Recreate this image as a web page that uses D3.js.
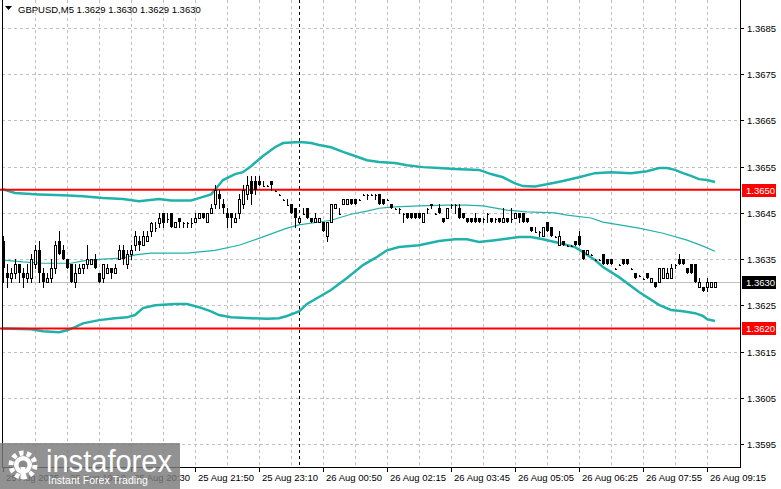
<!DOCTYPE html>
<html>
<head>
<meta charset="utf-8">
<script src="https://cdn.jsdelivr.net/npm/d3@7"></script>
<style>
  body { margin: 0; background: #fff; }
  text { font-family: "Liberation Sans", Arial, sans-serif; }
</style>
</head>
<body>
<div id="chart"></div>
<script>
var W = 781, H = 489;
var plotLeft = 2, plotRight = 740, plotBottom = 467;

// GBPUSD M5 bars: [open, high, low, close]
var candles = [
  [1.3639,1.3640,1.3630,1.3633],[1.3632,1.3634,1.3629,1.3631],[1.3631,1.3633,1.3630,1.3632],[1.3632,1.3635,1.3631,1.3634],
  [1.3634,1.3634,1.3630,1.3632],[1.3632,1.3633,1.3629,1.3631],[1.3631,1.3634,1.3630,1.3632],[1.3631,1.3636,1.3630,1.3635],
  [1.3634,1.3638,1.3633,1.3637],[1.3637,1.3639,1.3630,1.3632],[1.3632,1.3633,1.3629,1.3630],[1.3630,1.3632,1.3630,1.3631],
  [1.3631,1.3635,1.3630,1.3633],[1.3633,1.3639,1.3632,1.3638],[1.3639,1.3641,1.3636,1.3636],[1.3637,1.3638,1.3635,1.3635],
  [1.3635,1.3635,1.3633,1.3633],[1.3634,1.3634,1.3630,1.3630],[1.3630,1.3634,1.3629,1.3632],[1.3632,1.3634,1.3632,1.3633],
  [1.3633,1.3634,1.3632,1.3634],[1.3634,1.3638,1.3633,1.3635],[1.3634,1.3635,1.3634,1.3635],[1.3635,1.3636,1.3633,1.3633],
  [1.3632,1.3632,1.3630,1.3630],[1.3631,1.3634,1.3630,1.3634],[1.3632,1.3634,1.3632,1.3633],[1.3633,1.3633,1.3631,1.3632],
  [1.3632,1.3634,1.3632,1.3633],[1.3635,1.3638,1.3635,1.3637],[1.3637,1.3638,1.3634,1.3635],[1.3634,1.3637,1.3633,1.3636],
  [1.3636,1.3638,1.3635,1.3637],[1.3638,1.3641,1.3637,1.3640],[1.3639,1.3640,1.3637,1.3638],[1.3638,1.3641,1.3638,1.3640],
  [1.3639,1.3641,1.3639,1.3640],[1.3641,1.3643,1.3640,1.36428],[1.3642,1.3643,1.3641,1.3642],[1.36428,1.3645,1.3642,1.3644],
  [1.3645,1.3645,1.3642,1.36428],[1.3644,1.3645,1.3643,1.3644],[1.3645,1.3645,1.3642,1.3642],[1.3642,1.3643,1.3642,1.3643],
  [1.3644,1.3644,1.3642,1.3643],[1.3643,1.3643,1.3642,1.3643],[1.3643,1.3643,1.3642,1.3643],[1.3643,1.3644,1.3642,1.3643],
  [1.3643,1.3645,1.3643,1.3644],[1.3644,1.3645,1.3644,1.3645],[1.3645,1.3645,1.3644,1.3644],[1.3643,1.3645,1.3643,1.3645],
  [1.3645,1.3647,1.3645,1.3646],[1.3647,1.3651,1.3646,1.3650],[1.3649,1.3650,1.3646,1.3648],[1.3647,1.3648,1.3645,1.3646],
  [1.3645,1.3646,1.3642,1.3644],[1.3645,1.3645,1.3642,1.3644],[1.3643,1.3645,1.3643,1.3644],[1.3645,1.3649,1.3644,1.3648],
  [1.3647,1.3651,1.3646,1.3650],[1.3649,1.3653,1.3648,1.3651],[1.3652,1.3653,1.3647,1.3649],[1.3652,1.3653,1.3649,1.3650],
  [1.3652,1.3653,1.3651,1.3651],[1.3651,1.3652,1.3651,1.3651],[1.3651,1.3651,1.3651,1.3651],[1.3652,1.3652,1.3650,1.3651],
  [1.3650,1.3650,1.3650,1.3650],[1.3649,1.3649,1.3649,1.3649],[1.3648,1.3648,1.3648,1.3648],[1.3647,1.3648,1.3647,1.3647],
  [1.3647,1.3647,1.3645,1.3645],[1.3646,1.3646,1.3642,1.3644],[1.3643,1.3644,1.3643,1.3644],[1.3645,1.3646,1.3645,1.3645],
  [1.3646,1.3646,1.3644,1.3644],[1.3644,1.3644,1.3643,1.3643],[1.3643,1.3645,1.3643,1.3644],[1.3643,1.3644,1.3643,1.3644],
  [1.3643,1.3643,1.3641,1.3641],[1.3640,1.3643,1.3639,1.3643],[1.3643,1.3647,1.3643,1.3647],[1.3646,1.3647,1.3646,1.3647],
  [1.3645,1.3646,1.3645,1.3645],[1.3647,1.3648,1.3647,1.3648],[1.3647,1.3648,1.3647,1.3648],[1.3648,1.3648,1.3647,1.3647],
  [1.3648,1.3648,1.3647,1.3647],[1.3648,1.3648,1.3648,1.3648],[1.3649,1.3649,1.3649,1.3649],[1.3649,1.3649,1.3648,1.3649],
  [1.3649,1.3649,1.3649,1.3649],[1.3649,1.3649,1.3648,1.3649],[1.3649,1.3649,1.3647,1.3647],[1.3648,1.3648,1.3647,1.3647],
  [1.3648,1.3648,1.3648,1.3648],[1.3647,1.3647,1.3646,1.3646],[1.3646,1.3646,1.3646,1.3646],[1.3646,1.3646,1.3645,1.3646],
  [1.3645,1.3645,1.3643,1.3645],[1.3645,1.3645,1.3644,1.3644],[1.3645,1.3645,1.3644,1.3644],[1.3645,1.3645,1.3644,1.3644],
  [1.3645,1.3645,1.3644,1.3644],[1.3643,1.3645,1.3643,1.3645],[1.3646,1.3646,1.3645,1.3646],[1.3647,1.3647,1.3646,1.36465],
  [1.3645,1.3645,1.3645,1.3645],[1.3646,1.3647,1.3645,1.3645],[1.3644,1.3644,1.3643,1.3643],[1.3644,1.3646,1.3644,1.3646],
  [1.3647,1.3647,1.3646,1.3647],[1.3647,1.3647,1.3645,1.3647],[1.3646,1.3647,1.3644,1.3644],[1.3645,1.3645,1.3644,1.3644],
  [1.3644,1.3644,1.3643,1.3643],[1.3644,1.3644,1.3643,1.3643],[1.3644,1.3645,1.3643,1.3643],[1.3644,1.3644,1.3643,1.3643],
  [1.3644,1.3644,1.3643,1.3644],[1.3645,1.3645,1.3643,1.3645],[1.3644,1.3644,1.3643,1.3643],[1.3644,1.3644,1.3643,1.3644],
  [1.3644,1.3644,1.3643,1.3643],[1.3643,1.3646,1.3643,1.3644],[1.3644,1.3644,1.3643,1.3643],[1.3644,1.3646,1.3643,1.3644],
  [1.3644,1.3645,1.3644,1.3645],[1.3645,1.3645,1.3643,1.3644],[1.3645,1.3645,1.3643,1.3643],[1.3644,1.3644,1.3643,1.3643],
  [1.3642,1.3642,1.3641,1.3641],[1.3641,1.3642,1.3641,1.3641],[1.3641,1.3641,1.3640,1.3641],[1.3640,1.3642,1.3640,1.3642],
  [1.3643,1.3643,1.3641,1.3641],[1.3642,1.3642,1.3640,1.3640],[1.3640,1.3640,1.3640,1.3640],[1.3638,1.3641,1.3638,1.3640],
  [1.3639,1.3639,1.3638,1.3638],[1.3638,1.3638,1.3638,1.3638],[1.3638,1.3638,1.3638,1.3638],[1.3639,1.3639,1.3638,1.3638],
  [1.3640,1.3641,1.3638,1.3638],[1.3637,1.3637,1.3635,1.3635],[1.3636,1.3637,1.3636,1.3637],[1.3636,1.3636,1.3636,1.3636],
  [1.3635,1.3635,1.3635,1.3635],[1.3635,1.3635,1.3635,1.3635],[1.3636,1.3636,1.3634,1.3634],[1.3635,1.3635,1.3634,1.3634],
  [1.3635,1.3635,1.3634,1.3634],[1.3633,1.3633,1.3633,1.3633],[1.3634,1.3634,1.3634,1.3634],[1.3635,1.3635,1.3634,1.3634],
  [1.3635,1.3635,1.3634,1.3634],[1.3633,1.3633,1.3633,1.3633],[1.3632,1.3632,1.3631,1.3631],[1.36315,1.36315,1.36315,1.36315],
  [1.3631,1.3631,1.3631,1.3631],[1.3632,1.3632,1.3631,1.3631],[1.3630,1.3631,1.3630,1.3631],[1.3630,1.3630,1.3629,1.3629],
  [1.3630,1.3633,1.3630,1.3633],[1.3631,1.3633,1.3631,1.3633],[1.3631,1.3633,1.3631,1.3632],[1.3631,1.3634,1.3631,1.3633],
  [1.3634,1.3634,1.3633,1.3634],[1.3635,1.3636,1.3634,1.3634],[1.3635,1.3635,1.3634,1.3634],[1.3633,1.3633,1.3632,1.3632],
  [1.3634,1.3634,1.3632,1.3632],[1.3634,1.3634,1.3630,1.3630],[1.3629,1.3631,1.3629,1.3630],[1.3629,1.3629,1.3628,1.3628],
  [1.3629,1.3631,1.3628,1.3630],[1.3629,1.3630,1.3629,1.3630],[1.3629,1.3630,1.3629,1.3630]
];

// Bollinger bands: [bar, price]
var upperBand = [
  [0,1.36501],[3,1.36493],[9,1.3649],[15,1.36488],[20,1.36486],[25,1.36482],[30,1.3648],[34,1.36475],
  [39,1.3648],[42,1.36477],[47,1.36477],[49,1.36482],[52,1.3649],[53,1.3650],[55,1.36521],[58,1.36534],
  [60,1.36538],[62,1.36551],[65,1.36573],[68,1.36592],[70,1.36601],[73,1.36603],[75,1.36603],[77,1.36601],
  [79,1.36597],[82,1.36592],[85,1.36582],[88,1.36573],[91,1.36564],[94,1.3656],[98,1.36558],[101,1.36553],
  [105,1.36549],[109,1.36547],[113,1.36545],[119,1.36543],[122,1.36534],[125,1.36527],[128,1.36514],[130,1.36508],
  [133,1.36507],[136,1.36512],[140,1.36519],[144,1.36527],[148,1.36536],[152,1.36538],[157,1.36536],[161,1.3654],
  [164,1.36547],[166,1.36547],[168,1.36543],[170,1.36536],[172,1.3653],[174,1.36523],[176,1.36521],[178,1.36517]
];
var middleBand = [
  [0,1.36348],[5,1.36344],[10,1.36341],[17,1.36341],[20,1.36346],[25,1.3635],[30,1.36352],[33,1.36359],
  [37,1.36363],[46,1.36363],[53,1.36369],[59,1.3638],[65,1.36398],[71,1.36417],[74,1.36424],[82,1.36434],
  [87,1.36447],[91,1.36454],[94,1.3646],[98,1.36463],[104,1.36465],[111,1.36467],[116,1.36467],[120,1.36465],
  [126,1.36456],[131,1.36452],[138,1.3645],[141,1.36445],[147,1.36439],[150,1.3643],[159,1.36417],[165,1.36406],
  [171,1.36391],[175,1.36378],[178,1.36367]
];
var lowerBand = [
  [0,1.3620],[7,1.36198],[10,1.36194],[14,1.36192],[16,1.36196],[18,1.36203],[20,1.36211],[24,1.36218],
  [28,1.36222],[31,1.36224],[33,1.36229],[35,1.36244],[38,1.3625],[43,1.36253],[46,1.36253],[49,1.36246],
  [52,1.36237],[54,1.36229],[57,1.36224],[62,1.36222],[66,1.36221],[69,1.36222],[71,1.36227],[74,1.36237],
  [76,1.36253],[79,1.36268],[82,1.36283],[86,1.36309],[90,1.36337],[93,1.36352],[96,1.36369],[99,1.36376],
  [104,1.3638],[109,1.36389],[113,1.36393],[116,1.36393],[119,1.36387],[123,1.36391],[129,1.36398],[132,1.36398],
  [135,1.36393],[139,1.36385],[143,1.36376],[145,1.36365],[148,1.36348],[150,1.36333],[154,1.36311],[159,1.36279],
  [164,1.36251],[167,1.3624],[170,1.36237],[173,1.36233],[175,1.36227],[176,1.3622],[178,1.36216]
];

var priceTicks = [1.3685, 1.3675, 1.3665, 1.3655, 1.3645, 1.3635, 1.3625, 1.3615, 1.3605, 1.3595];
var timeLabels = ["25 Aug 2025", "25 Aug 19:10", "25 Aug 20:30", "25 Aug 21:50", "25 Aug 23:10", "26 Aug 00:50",
                  "26 Aug 02:15", "26 Aug 03:45", "26 Aug 05:05", "26 Aug 06:25", "26 Aug 07:55", "26 Aug 09:15"];
var levels = [1.3650, 1.3620];   // red support / resistance lines
var bid = 1.3630;
var daySeparatorBar = 74;
var title = "GBPUSD,M5  1.3629 1.3630 1.3629 1.3630";

var svg = d3.select("#chart").append("svg")
    .attr("width", W)
    .attr("height", H);

var x = d3.scaleLinear().domain([0, candles.length - 1]).range([3, 3 + 4 * (candles.length - 1)]);
var y = d3.scaleLinear().domain([1.3595, 1.3685]).range([444, 28]);
var py = p => Math.round(y(p));

// grid
var grid = svg.append("g").attr("stroke", "#c0c0c0").attr("stroke-dasharray", "3,3").attr("shape-rendering", "crispEdges");
grid.selectAll(".hg").data(priceTicks).enter().append("line")
    .attr("x1", plotLeft).attr("x2", plotRight)
    .attr("y1", d => py(d) + 0.5).attr("y2", d => py(d) + 0.5);
grid.selectAll(".vg").data(d3.range(8, candles.length, 8)).enter().append("line")
    .attr("x1", d => x(d) + 0.5).attr("x2", d => x(d) + 0.5)
    .attr("y1", 0).attr("y2", plotBottom);

// day separator
svg.append("line")
    .attr("x1", x(daySeparatorBar) + 0.5).attr("x2", x(daySeparatorBar) + 0.5)
    .attr("y1", 0).attr("y2", plotBottom)
    .attr("stroke", "#000").attr("stroke-dasharray", "3,3");

// bid line
svg.append("line")
    .attr("x1", plotLeft).attr("x2", plotRight)
    .attr("y1", py(bid) + 0.5).attr("y2", py(bid) + 0.5)
    .attr("stroke", "#c0c0c0");

// bands
var line = d3.line().x(d => x(d[0])).y(d => y(d[1]));
[[upperBand, 2.5], [lowerBand, 2.5], [middleBand, 1.2]].forEach(b => {
    svg.append("path").datum(b[0])
        .attr("d", line)
        .attr("fill", "none")
        .attr("stroke", "#20b2aa")
        .attr("stroke-width", b[1]);
});

// red levels
svg.selectAll(".lvl").data(levels).enter().append("line")
    .attr("x1", 0).attr("x2", plotRight)
    .attr("y1", d => y(d)).attr("y2", d => y(d))
    .attr("stroke", "#ff0000").attr("stroke-width", 2);

// candles
var c = svg.append("g").attr("shape-rendering", "crispEdges");
c.selectAll(".wick").data(candles).enter().append("line")
    .attr("x1", (d, i) => x(i) + 0.5).attr("x2", (d, i) => x(i) + 0.5)
    .attr("y1", d => py(d[1])).attr("y2", d => py(d[2]) + 1)
    .attr("stroke", "#000");
c.selectAll(".body").data(candles).enter().append("rect")
    .attr("x", (d, i) => d[3] >= d[0] ? x(i) - 0.5 : x(i) - 1)
    .attr("y", d => d[3] >= d[0] ? py(Math.max(d[0], d[3])) + 0.5 : py(Math.max(d[0], d[3])))
    .attr("width", d => d[3] >= d[0] ? 2 : 3)
    .attr("height", d => {
        var h = py(Math.min(d[0], d[3])) - py(Math.max(d[0], d[3]));
        return d[3] > d[0] ? Math.max(h, 1) : Math.max(h, 1);
    })
    .attr("fill", d => d[3] > d[0] ? "#fff" : "#000")
    .attr("stroke", d => d[3] > d[0] ? "#000" : "none");

// frame
svg.append("path")
    .attr("d", "M" + (plotLeft + 0.5) + ",0V" + (plotBottom + 0.5) + "H" + (plotRight + 0.5) + "V0")
    .attr("fill", "none").attr("stroke", "#000").attr("shape-rendering", "crispEdges");

// price axis
var ax = svg.append("g");
ax.selectAll(".tk").data(priceTicks).enter().append("line")
    .attr("x1", plotRight).attr("x2", plotRight + 4)
    .attr("y1", d => py(d) + 0.5).attr("y2", d => py(d) + 0.5)
    .attr("stroke", "#000");
ax.selectAll(".pl").data(priceTicks).enter().append("text")
    .attr("x", 747).attr("y", d => py(d) + 3.5)
    .attr("font-size", "9.5px").attr("fill", "#000")
    .text(d => d.toFixed(4));

// level and bid tags
var tags = levels.map(v => ({ v: v, col: "#ff0000" })).concat([{ v: bid, col: "#000" }]);
ax.selectAll(".tag").data(tags).enter().append("rect")
    .attr("x", 742).attr("y", d => py(d.v) - 6).attr("width", 34).attr("height", 13)
    .attr("fill", d => d.col);
ax.selectAll(".tagt").data(tags).enter().append("text")
    .attr("x", 746).attr("y", d => py(d.v) + 3.5)
    .attr("font-size", "9.5px").attr("fill", "#fff")
    .text(d => d.v.toFixed(4));

// time axis
ax.selectAll(".tt").data(timeLabels).enter().append("line")
    .attr("x1", (d, i) => x(i * 16) + 0.5).attr("x2", (d, i) => x(i * 16) + 0.5)
    .attr("y1", plotBottom).attr("y2", plotBottom + 5)
    .attr("stroke", "#000");
ax.selectAll(".tl").data(timeLabels).enter().append("text")
    .attr("x", (d, i) => x(i * 16) + 3).attr("y", 481)
    .attr("font-size", "9.5px").attr("fill", "#000")
    .text(d => d);

// title
svg.append("path").attr("d", "M5,6H12L8.5,10Z").attr("fill", "#000");
svg.append("text").attr("x", 18).attr("y", 13)
    .attr("font-size", "9.5px").attr("fill", "#000")
    .text(title);

// instaforex watermark
var wm = svg.append("g");
wm.append("rect").attr("x", 0).attr("y", 443).attr("width", 180).attr("height", 46)
    .attr("fill", "#7a7a7a").attr("opacity", 0.82);
wm.append("circle").attr("cx", 23).attr("cy", 465).attr("r", 12)
    .attr("fill", "none").attr("stroke", "#fff").attr("stroke-width", 5).attr("stroke-dasharray", "4.2,3.3");
wm.append("circle").attr("cx", 23).attr("cy", 465).attr("r", 9).attr("fill", "#fff");
wm.append("circle").attr("cx", 23).attr("cy", 465).attr("r", 4.5).attr("fill", "#8a8a8a");
wm.append("rect").attr("x", 20.5).attr("y", 467).attr("width", 5).attr("height", 12).attr("fill", "#fff");
wm.append("text").attr("x", 46).attr("y", 472)
    .attr("font-family", "Lato, 'Open Sans', sans-serif").attr("font-size", "31px").attr("fill", "#fff")
    .attr("textLength", 126).attr("lengthAdjust", "spacingAndGlyphs")
    .text("instaforex");
wm.append("text").attr("x", 48).attr("y", 484)
    .attr("font-family", "'Open Sans', sans-serif").attr("font-size", "11px").attr("fill", "#fff")
    .attr("textLength", 100).attr("lengthAdjust", "spacingAndGlyphs")
    .text("Instant Forex Trading");
</script>
</body>
</html>
